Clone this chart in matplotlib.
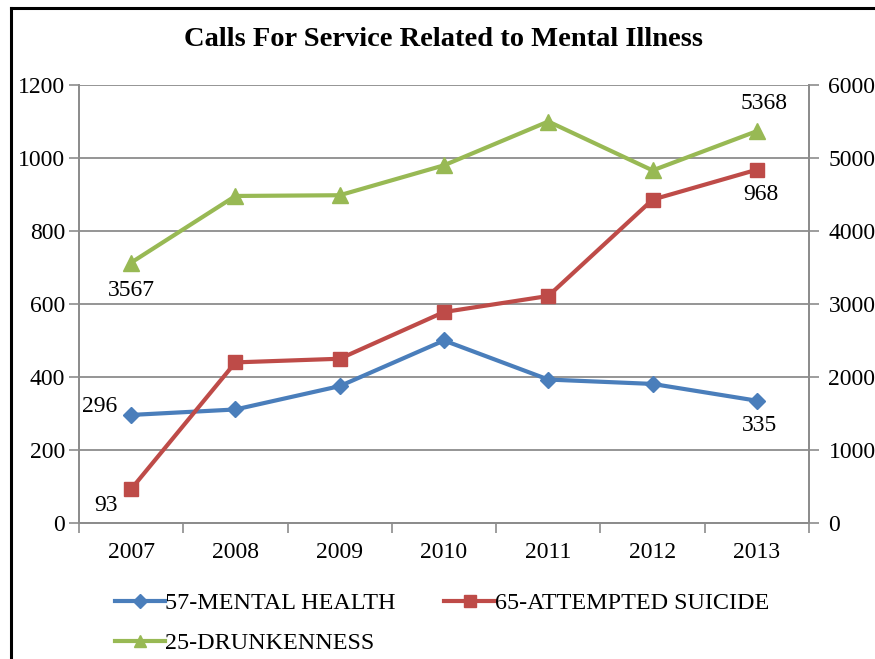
import matplotlib.pyplot as plt
from matplotlib.lines import Line2D

# data
years = ["2007", "2008", "2009", "2010", "2011", "2012", "2013"]
mental_health = [296, 311, 375, 500, 393, 381, 335]
attempted_suicide = [93, 440, 450, 578, 622, 886, 968]
drunkenness = [3567, 4480, 4490, 4900, 5500, 4830, 5368]

left_ticks = [0, 200, 400, 600, 800, 1000, 1200]
right_ticks = [0, 1000, 2000, 3000, 4000, 5000, 6000]

BLUE = "#4A7EBB"
RED = "#BE4B48"
GREEN = "#98B954"
GRID = "#8C8C8C"

plt.rcParams["font.family"] = ["Liberation Serif", "DejaVu Serif"]

fig = plt.figure(figsize=(8.75, 6.59), dpi=100)
ax = fig.add_axes([0.0903, 0.2064, 0.8343, 0.6646])
ax2 = ax.twinx()

x = list(range(len(years)))

ax.plot(x, mental_health, color=BLUE, lw=3, marker="D", ms=8,
        label="57-MENTAL HEALTH", zorder=4)
ax.plot(x, attempted_suicide, color=RED, lw=3, marker="s", ms=10,
        label="65-ATTEMPTED SUICIDE", zorder=4)
ax2.plot(x, drunkenness, color=GREEN, lw=3, marker="^", ms=11,
         label="25-DRUNKENNESS", zorder=4)

ax.set_xlim(-0.5, len(years) - 0.5)
ax.set_ylim(0, 1200)
ax2.set_ylim(0, 6000)
ax.set_yticks(left_ticks)
ax2.set_yticks(right_ticks)
ax.set_xticks(x)
ax.set_xticklabels(years)
ax.set_xticks([i - 0.5 for i in range(len(years) + 1)], minor=True)

ax.tick_params(axis="x", which="major", length=0, labelsize=17, pad=14)
ax.tick_params(axis="x", which="minor", length=7, width=1.2, color=GRID, direction="out")
ax.tick_params(axis="y", length=7, width=1.2, color=GRID, labelsize=17, pad=3)
ax2.tick_params(axis="y", length=7, width=1.2, color=GRID, labelsize=17, pad=7)

ax.grid(axis="y", color=GRID, lw=1.3)
ax.set_axisbelow(True)
for a in (ax, ax2):
    a.spines["top"].set_visible(False)
    for s in ("left", "right", "bottom"):
        a.spines[s].set_color(GRID)
        a.spines[s].set_linewidth(1.3)

# data labels
fs = 17
ax.annotate("296", (0, mental_health[0]), xytext=(-10, 6), textcoords="offset points",
            ha="right", va="center", fontsize=fs)
ax.annotate("93", (0, attempted_suicide[0]), xytext=(-10, -12), textcoords="offset points",
            ha="right", va="center", fontsize=fs)
ax2.annotate("3567", (0, drunkenness[0]), xytext=(0, -20), textcoords="offset points",
             ha="center", va="center", fontsize=fs)
ax2.annotate("5368", (6, drunkenness[6]), xytext=(5, 20), textcoords="offset points",
             ha="center", va="center", fontsize=fs)
ax.annotate("968", (6, attempted_suicide[6]), xytext=(3, -18), textcoords="offset points",
            ha="center", va="center", fontsize=fs)
ax.annotate("335", (6, mental_health[6]), xytext=(2, -18), textcoords="offset points",
            ha="center", va="center", fontsize=fs)

fig.text(0.507, 0.940, "Calls For Service Related to Mental Illness",
         ha="center", va="center", fontsize=20.5, fontweight="bold")

handles = [
    Line2D([], [], color=BLUE, lw=3, marker="D", ms=7),
    Line2D([], [], color=GREEN, lw=3, marker="^", ms=9),
    Line2D([], [], color=RED, lw=3, marker="s", ms=8),
]
labels = ["57-MENTAL HEALTH", "25-DRUNKENNESS", "65-ATTEMPTED SUICIDE"]
fig.legend(handles, labels, ncol=2, loc="upper left", bbox_to_anchor=(0.131, 0.101),
           frameon=False, fontsize=17.4, handlelength=2.1, handletextpad=0.0,
           columnspacing=2.0, labelspacing=0.75, borderaxespad=0, borderpad=0)

# black frame on the top and left edges
fig.add_artist(Line2D([0.0125, 1.0], [0.988, 0.988], color="black", lw=2.2))
fig.add_artist(Line2D([0.0125, 0.0125], [0.0, 0.988], color="black", lw=2.2))

fig.savefig("out.png", dpi=100)
